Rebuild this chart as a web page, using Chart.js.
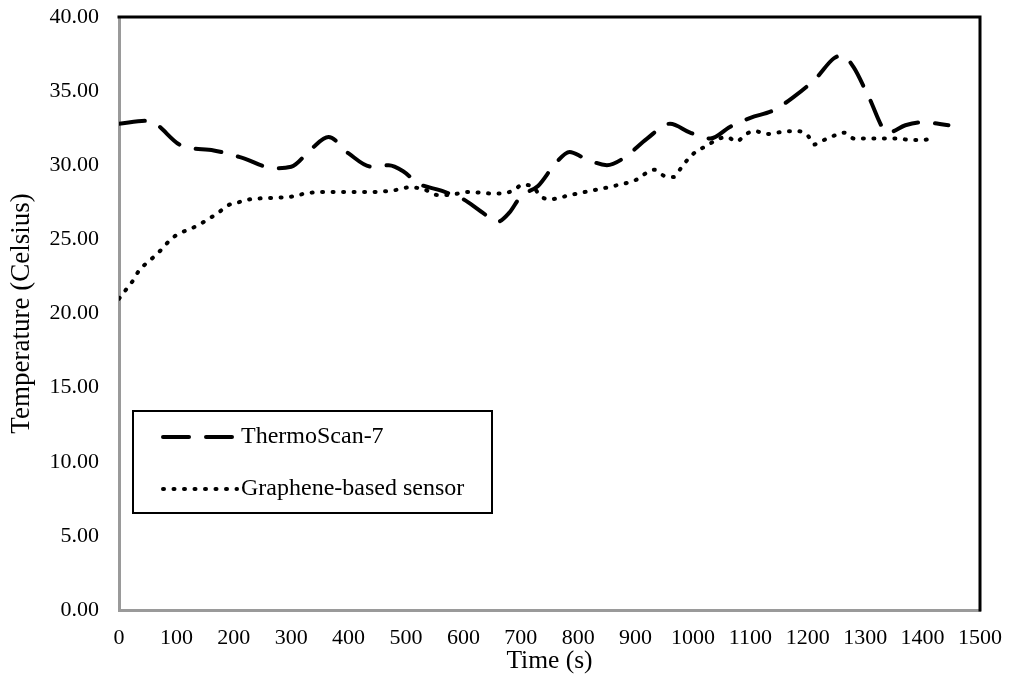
<!DOCTYPE html>
<html>
<head>
<meta charset="utf-8">
<script src="https://cdn.jsdelivr.net/npm/chart.js@4/dist/chart.umd.min.js"></script>
<style>
  html, body { margin: 0; padding: 0; background: #fff; }
  #wrap { width: 1011px; height: 675px; position: relative; }
</style>
</head>
<body>
<div id="wrap"><canvas id="c" width="1011" height="675"></canvas></div>
<script>
// ---- data ----
const seriesNames = ['ThermoScan-7', 'Graphene-based sensor'];
const thermoTime = [0, 50, 110, 165, 215, 270, 300, 335, 365, 400, 440, 470, 495, 520, 560, 600, 630, 660, 680, 700, 730, 760, 785, 810, 850, 880, 920, 960, 995, 1030, 1065, 1100, 1140, 1175, 1215, 1245, 1260, 1280, 1305, 1340, 1370, 1400, 1445];
const thermoTemp = [32.8, 33.0, 31.3, 31.0, 30.5, 29.8, 29.9, 31.1, 31.9, 30.8, 29.9, 30.0, 29.6, 28.8, 28.3, 27.7, 26.9, 26.2, 26.8, 27.9, 28.6, 30.1, 30.9, 30.5, 30.0, 30.5, 31.8, 32.8, 32.2, 31.8, 32.6, 33.2, 33.7, 34.6, 35.9, 37.2, 37.4, 36.6, 34.7, 32.2, 32.7, 32.9, 32.7];
const grapheneTime = [0, 12, 24, 35, 48, 63, 76, 90, 105, 124, 140, 157, 173, 190, 208, 228, 267, 304, 325, 362, 400, 441, 478, 505, 530, 554, 574, 609, 647, 668, 687, 704, 722, 735, 750, 787, 825, 862, 900, 932, 949, 966, 979, 991, 1008, 1024, 1040, 1059, 1076, 1092, 1109, 1127, 1146, 1165, 1183, 1200, 1211, 1228, 1246, 1263, 1281, 1301, 1320, 1340, 1359, 1378, 1397, 1418];
const grapheneTemp = [21.0, 21.6, 22.2, 22.9, 23.4, 23.9, 24.4, 25.0, 25.4, 25.7, 26.0, 26.4, 26.8, 27.3, 27.5, 27.7, 27.8, 27.9, 28.1, 28.2, 28.2, 28.2, 28.3, 28.5, 28.4, 28.0, 28.0, 28.2, 28.1, 28.1, 28.3, 28.7, 28.5, 27.9, 27.7, 28.0, 28.3, 28.6, 29.0, 29.7, 29.3, 29.2, 29.8, 30.4, 31.0, 31.3, 31.7, 31.9, 31.6, 32.1, 32.3, 32.1, 32.2, 32.3, 32.3, 32.0, 31.4, 31.7, 32.0, 32.2, 31.8, 31.8, 31.8, 31.8, 31.8, 31.7, 31.7, 31.8];
const xTickValues = [0, 100, 200, 300, 400, 500, 600, 700, 800, 900, 1000, 1100, 1200, 1300, 1400, 1500];
const yTickLabels = ['0.00', '5.00', '10.00', '15.00', '20.00', '25.00', '30.00', '35.00', '40.00'];
const xTitle = 'Time (s)';
const yTitle = 'Temperature (Celsius)';

// ---- styling ----
const FONT = "'Liberation Serif', 'Times New Roman', serif";
const thermoDash = [26, 17];
const grapheneDash = [1, 9.5];

function pts(xs, ys) { return xs.map((x, i) => ({ x: x, y: ys[i] })); }

const framePlugin = {
  id: 'frame',
  afterDatasetsDraw(chart) {
    const ctx = chart.ctx;
    const a = chart.chartArea;
    ctx.save();
    ctx.strokeStyle = '#000';
    ctx.lineWidth = 3;
    ctx.lineCap = 'square';
    ctx.beginPath();
    ctx.moveTo(a.left, a.top);
    ctx.lineTo(a.right, a.top);
    ctx.lineTo(a.right, a.bottom);
    ctx.stroke();
    ctx.restore();

    // legend box
    const bx = a.left + 14, by = a.top + 394, bw = 359, bh = 102;
    ctx.save();
    ctx.fillStyle = '#fff';
    ctx.fillRect(bx, by, bw, bh);
    ctx.strokeStyle = '#000';
    ctx.lineWidth = 2;
    ctx.strokeRect(bx, by, bw, bh);
    const rows = [
      { dash: thermoDash, y: by + 26 },
      { dash: grapheneDash, y: by + 78 }
    ];
    rows.forEach((r, i) => {
      ctx.beginPath();
      ctx.setLineDash(r.dash);
      ctx.lineCap = 'round';
      ctx.lineWidth = 4;
      ctx.strokeStyle = '#000';
      ctx.moveTo(bx + 30, r.y);
      ctx.lineTo(bx + 104, r.y);
      ctx.stroke();
      ctx.setLineDash([]);
      ctx.fillStyle = '#000';
      ctx.font = '24px ' + FONT;
      ctx.textBaseline = 'middle';
      ctx.textAlign = 'left';
      ctx.fillText(chart.data.datasets[i].label, bx + 108, r.y);
    });
    ctx.restore();
  }
};

new Chart(document.getElementById('c'), {
  type: 'line',
  data: {
    datasets: [
      {
        label: seriesNames[0],
        data: pts(thermoTime, thermoTemp),
        borderColor: '#000',
        borderWidth: 4,
        borderDash: thermoDash,
        borderCapStyle: 'round',
        pointRadius: 0,
        cubicInterpolationMode: 'monotone',
        fill: false
      },
      {
        label: seriesNames[1],
        data: pts(grapheneTime, grapheneTemp),
        borderColor: '#000',
        borderWidth: 4,
        borderDash: grapheneDash,
        borderCapStyle: 'round',
        pointRadius: 0,
        cubicInterpolationMode: 'monotone',
        fill: false
      }
    ]
  },
  options: {
    responsive: false,
    animation: false,
    layout: { padding: { top: 17, right: 31, bottom: 0, left: 0 } },
    plugins: { legend: { display: false }, tooltip: { enabled: false } },
    scales: {
      x: {
        type: 'linear',
        min: 0, max: 1500,
        afterFit(s) { s.height = 65; s.paddingLeft = 0; s.paddingRight = 0; },
        afterBuildTicks(s) { s.ticks = xTickValues.map(v => ({ value: v })); },
        grid: { display: false, drawTicks: false },
        border: { display: true, color: '#9a9a9a', width: 3 },
        ticks: {
          autoSkip: false, maxRotation: 0, padding: 15,
          color: '#000', font: { family: FONT, size: 22 },
          callback: v => String(v)
        },
        title: {
          display: true, text: xTitle, color: '#000',
          font: { family: FONT, size: 25.5, lineHeight: 1.1 },
          padding: { top: 0, bottom: 0 }
        }
      },
      y: {
        type: 'linear',
        min: 0, max: 40,
        afterFit(s) { s.width = 119; s.paddingTop = 0; s.paddingBottom = 0; },
        afterBuildTicks(s) { s.ticks = yTickLabels.map((t, i) => ({ value: i * 5 })); },
        grid: { display: false, drawTicks: false },
        border: { display: true, color: '#9a9a9a', width: 3 },
        ticks: {
          autoSkip: false, padding: 20,
          color: '#000', font: { family: FONT, size: 22 },
          callback: (v, i) => yTickLabels[i]
        },
        title: {
          display: true, text: yTitle, color: '#000',
          font: { family: FONT, size: 27, lineHeight: 1.2 },
          padding: { top: 6, bottom: 0 }
        }
      }
    }
  },
  plugins: [framePlugin]
});
</script>
</body>
</html>
